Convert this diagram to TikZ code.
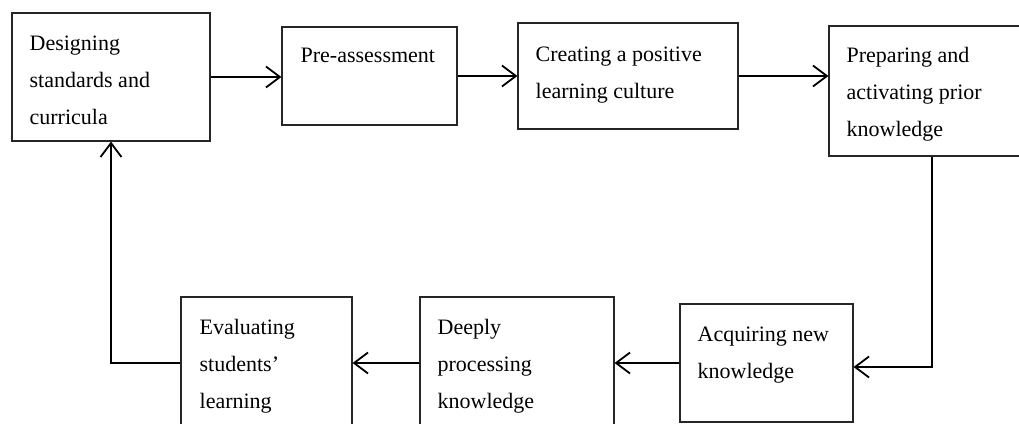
\documentclass[tikz,border=0pt]{standalone}
\usepackage{fontspec}
\setmainfont{Liberation Serif}
\usetikzlibrary{arrows.meta}

\tikzset{
  stage/.style={draw=black!85, line width=1.1pt, rectangle, inner sep=0pt},
  stagetext/.style={anchor=base west, align=left, inner sep=0pt,
    font=\fontsize{22}{37}\selectfont},
  flow/.style={line width=2pt,
    -{Straight Barb[length=14pt,width=21pt,line width=1.8pt]}}
}

\begin{document}
\begin{tikzpicture}[x=1pt,y=1pt]
\useasboundingbox (0,0) rectangle (1019,423);
\clip (0,0) rectangle (1019,423);
% top row
\node[stage, minimum width=198pt, minimum height=128pt] (design) at (111,346) {};
\node[stage, minimum width=175pt, minimum height=98pt] (pre) at (369.5,347) {};
\node[stage, minimum width=220pt, minimum height=106pt] (culture) at (628,347) {};
\node[stage, minimum width=206pt, minimum height=130pt] (prior) at (932,332) {};
% bottom row
\node[stage, minimum width=173pt, minimum height=118pt] (acquire) at (766.5,60) {};
\node[stage, minimum width=194pt, minimum height=132pt] (deep) at (517,60) {};
\node[stage, minimum width=171pt, minimum height=132pt] (eval) at (266.5,60) {};
%labels (base = last line, 37pt per line)
\node[stagetext] (designtxt) at ([shift={(18,-112)}]design.north west) {Designing\\standards and\\curricula};
\node[stagetext] (pretxt) at ([shift={(19,-36)}]pre.north west) {Pre-assessment};
\node[stagetext] (culturetxt) at ([shift={(18,-76)}]culture.north west) {Creating a positive\\learning culture};
\node[stagetext] (priortxt) at ([shift={(18,-111)}]prior.north west) {Preparing and\\activating prior\\knowledge};
\node[stagetext] (acquiretxt) at ([shift={(18,-75)}]acquire.north west) {Acquiring new\\knowledge};
\node[stagetext] (deeptxt) at ([shift={(18,-112)}]deep.north west) {Deeply\\processing\\knowledge};
\node[stagetext] (evaltxt) at ([shift={(19,-112)}]eval.north west) {Evaluating\\students'\\learning};
% cycle
\draw[flow] (design.east) -- (design.east -| pre.west);
\draw[flow] (pre.east) -- (culture.west);
\draw[flow] (culture.east) -- (culture.east -| prior.west);
\draw[flow] (prior.south) |- ([yshift=-4pt]acquire.east);
\draw[flow] (acquire.west) -- (deep.east);
\draw[flow] (deep.west) -- (eval.east);
\draw[flow] (eval.west) -| (design.south);
\end{tikzpicture}
\end{document}
